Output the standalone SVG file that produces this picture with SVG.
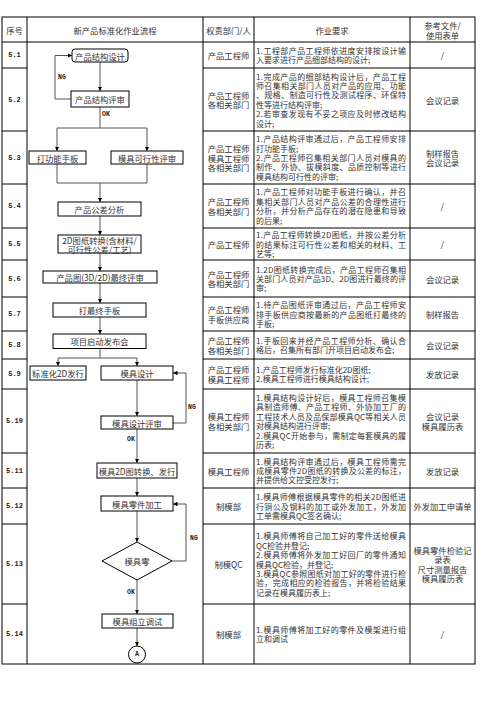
<svg xmlns="http://www.w3.org/2000/svg" width="496" height="702" viewBox="0 0 496 702">
<style>
.grid{stroke:#000;stroke-width:1;fill:none}
.box{fill:#fff;stroke:#000;stroke-width:1}
.cn{stroke:#555;stroke-width:1;fill:none}
text{font-family:"Noto Sans CJK SC","Noto Sans",sans-serif;fill:#333;dominant-baseline:central}
.c{text-anchor:middle}
.bt{font-size:8.3px;text-anchor:middle}
.t{font-size:8px}
.h{font-size:8.3px;text-anchor:middle}
.num{font-family:"Liberation Mono",monospace;font-size:7px;font-weight:bold;text-anchor:middle;fill:#222}
.lb{font-family:"Liberation Mono",monospace;font-size:6.5px;font-weight:bold;fill:#222}
</style>
<defs>
<marker id="ah" viewBox="0 0 10 10" refX="10" refY="5" markerWidth="4.5" markerHeight="4.5" markerUnits="userSpaceOnUse" orient="auto">
<path d="M0,0 L10,5 L0,10 z" fill="#000"/>
</marker>
</defs>
<rect width="496" height="702" fill="#fff"/>
<g id="table">
<rect class="grid" x="2" y="17" width="473" height="647"/>
<line class="grid" x1="2" y1="42" x2="475" y2="42"/>
<line class="grid" x1="27" y1="17" x2="27" y2="664"/>
<line class="grid" x1="203" y1="17" x2="203" y2="664"/>
<line class="grid" x1="254" y1="17" x2="254" y2="664"/>
<line class="grid" x1="410" y1="17" x2="410" y2="664"/>
<path class="grid" d="M2,68H27M2,131H27M2,184H27M2,228H27M2,260H27M2,297H27M2,331H27M2,359H27M2,389H27M2,453H27M2,488H27M2,524H27M2,604H27"/>
<path class="grid" d="M203,68H475M203,131H475M203,184H475M203,228H475M203,260H475M203,297H475M203,331H475M203,359H475M203,389H475M203,453H475M203,488H475M203,524H475M203,604H475"/>
<text class="h" x="14.5" y="29.5">序号</text>
<text class="h" x="115" y="29.5">新产品标准化作业流程</text>
<text class="h" x="228.5" y="29.5">权责部门/人</text>
<text class="h" x="332" y="29.5">作业要求</text>
<text class="h" x="442.5" y="25">参考文件/</text>
<text class="h" x="442.5" y="34.5">使用表单</text>
</g>
<g id="numbers">
<text class="num" x="14.5" y="55">5.1</text>
<text class="num" x="14.5" y="99.5">5.2</text>
<text class="num" x="14.5" y="157.5">5.3</text>
<text class="num" x="14.5" y="206">5.4</text>
<text class="num" x="14.5" y="244">5.5</text>
<text class="num" x="14.5" y="278.5">5.6</text>
<text class="num" x="14.5" y="314">5.7</text>
<text class="num" x="14.5" y="345">5.8</text>
<text class="num" x="14.5" y="374">5.9</text>
<text class="num" x="14.5" y="421">5.10</text>
<text class="num" x="14.5" y="470.5">5.11</text>
<text class="num" x="14.5" y="506">5.12</text>
<text class="num" x="14.5" y="564">5.13</text>
<text class="num" x="14.5" y="634">5.14</text>
</g>
<g id="responsible">
<text class="h" x="228.5" y="55">产品工程师</text>
<text class="h" x="228.5" y="94.8">产品工程师</text><text class="h" x="228.5" y="104.2">各相关部门</text>
<text class="h" x="228.5" y="148.1">产品工程师</text><text class="h" x="228.5" y="157.5">模具工程师</text><text class="h" x="228.5" y="166.9">各相关部门</text>
<text class="h" x="228.5" y="201.3">产品工程师</text><text class="h" x="228.5" y="210.7">各相关部门</text>
<text class="h" x="228.5" y="244">产品工程师</text>
<text class="h" x="228.5" y="273.8">产品工程师</text><text class="h" x="228.5" y="283.2">各相关部门</text>
<text class="h" x="228.5" y="309.3">产品工程师</text><text class="h" x="228.5" y="318.7">手板供应商</text>
<text class="h" x="228.5" y="340.3">产品工程师</text><text class="h" x="228.5" y="349.7">各相关部门</text>
<text class="h" x="228.5" y="369.3">产品工程师</text><text class="h" x="228.5" y="378.7">模具工程师</text>
<text class="h" x="228.5" y="416.3">模具工程师</text><text class="h" x="228.5" y="425.7">各相关部门</text>
<text class="h" x="228.5" y="470.5">模具工程师</text>
<text class="h" x="228.5" y="506">制模部</text>
<text class="h" x="228.5" y="564">制模QC</text>
<text class="h" x="228.5" y="634">制模部</text>
</g>
<g id="requirements">
<text class="t" x="256" y="50.3" textLength="150" lengthAdjust="spacing">1.工程部产品工程师依进度安排按设计输</text>
<text class="t" x="256" y="59.7">入要求进行产品细部结构的设计;</text>
<text class="t" x="256" y="76" textLength="150" lengthAdjust="spacing">1.完成产品的细部结构设计后，产品工程</text>
<text class="t" x="256" y="85.4" textLength="150" lengthAdjust="spacing">师召集相关部门人员对产品的应用、功能</text>
<text class="t" x="256" y="94.8" textLength="150" lengthAdjust="spacing">、规格、制造可行性及测试程序、环保特</text>
<text class="t" x="256" y="104.2">性等进行结构评审;</text>
<text class="t" x="256" y="113.6" textLength="150" lengthAdjust="spacing">2.若审查发现有不妥之项应及时修改结构</text>
<text class="t" x="256" y="123">设计;</text>
<text class="t" x="256" y="138.7" textLength="150" lengthAdjust="spacing">1.产品结构评审通过后，产品工程师安排</text>
<text class="t" x="256" y="148.1">打功能手板;</text>
<text class="t" x="256" y="157.5" textLength="150" lengthAdjust="spacing">2.产品工程师召集相关部门人员对模具的</text>
<text class="t" x="256" y="166.9" textLength="150" lengthAdjust="spacing">制作、外协、拔模斜度、品质控制等进行</text>
<text class="t" x="256" y="176.3">模具结构可行性的评审;</text>
<text class="t" x="256" y="191.9" textLength="150" lengthAdjust="spacing">1.产品工程师对功能手板进行确认，并召</text>
<text class="t" x="256" y="201.3" textLength="150" lengthAdjust="spacing">集相关部门人员对产品公差的合理性进行</text>
<text class="t" x="256" y="210.7" textLength="150" lengthAdjust="spacing">分析，并分析产品存在的潜在隐患和导致</text>
<text class="t" x="256" y="220.1">的后果;</text>
<text class="t" x="256" y="234.6" textLength="150" lengthAdjust="spacing">1.产品工程师转换2D图纸，并按公差分析</text>
<text class="t" x="256" y="244" textLength="150" lengthAdjust="spacing">的结果标注可行性公差和相关的材料、工</text>
<text class="t" x="256" y="253.4">艺等;</text>
<text class="t" x="256" y="269.1" textLength="150" lengthAdjust="spacing">1.2D图纸转换完成后，产品工程师召集相</text>
<text class="t" x="256" y="278.5" textLength="150" lengthAdjust="spacing">关部门人员对产品3D、2D图进行最终的评</text>
<text class="t" x="256" y="287.9">审;</text>
<text class="t" x="256" y="304.6" textLength="150" lengthAdjust="spacing">1.待产品图纸评审通过后，产品工程师安</text>
<text class="t" x="256" y="314" textLength="150" lengthAdjust="spacing">排手板供应商按最新的产品图纸打最终的</text>
<text class="t" x="256" y="323.4">手板;</text>
<text class="t" x="256" y="340.3" textLength="150" lengthAdjust="spacing">1.手板回来并经产品工程师分析、确认合</text>
<text class="t" x="256" y="349.7">格后，召集所有部门开项目启动发布会;</text>
<text class="t" x="256" y="369.3">1.产品工程师发行标准化2D图纸;</text>
<text class="t" x="256" y="378.7">2.模具工程师进行模具结构设计;</text>
<text class="t" x="256" y="397.5" textLength="150" lengthAdjust="spacing">1.模具结构设计好后，模具工程师召集模</text>
<text class="t" x="256" y="406.9" textLength="150" lengthAdjust="spacing">具制造师傅、产品工程师、外协加工厂的</text>
<text class="t" x="256" y="416.3" textLength="150" lengthAdjust="spacing">工程技术人员及品保部模具QC等相关人员</text>
<text class="t" x="256" y="425.7">对模具结构进行评审;</text>
<text class="t" x="256" y="435.1" textLength="150" lengthAdjust="spacing">2.模具QC开始参与，需制定每套模具的履</text>
<text class="t" x="256" y="444.5">历表;</text>
<text class="t" x="256" y="461.1" textLength="150" lengthAdjust="spacing">1.模具结构评审通过后，模具工程师需完</text>
<text class="t" x="256" y="470.5" textLength="150" lengthAdjust="spacing">成模具零件2D图纸的转换及公差的标注，</text>
<text class="t" x="256" y="479.9">并提供给文控受控发行;</text>
<text class="t" x="256" y="496.6" textLength="150" lengthAdjust="spacing">1.模具师傅根据模具零件的相关2D图纸进</text>
<text class="t" x="256" y="506" textLength="150" lengthAdjust="spacing">行铜公及钢料的加工或外发加工，外发加</text>
<text class="t" x="256" y="515.4">工单需模具QC签名确认;</text>
<text class="t" x="256" y="535.8" textLength="150" lengthAdjust="spacing">1.模具师傅将自己加工好的零件送给模具</text>
<text class="t" x="256" y="545.2">QC检验并登记;</text>
<text class="t" x="256" y="554.6" textLength="150" lengthAdjust="spacing">2.模具师傅将外发加工好回厂的零件通知</text>
<text class="t" x="256" y="564">模具QC检验，并登记;</text>
<text class="t" x="256" y="573.4" textLength="150" lengthAdjust="spacing">3.模具QC参照图纸对加工好的零件进行检</text>
<text class="t" x="256" y="582.8" textLength="150" lengthAdjust="spacing">验，完成相应的检验报告，并将检验结果</text>
<text class="t" x="256" y="592.2">记录在模具履历表上;</text>
<text class="t" x="256" y="629.3" textLength="150" lengthAdjust="spacing">1.模具师傅将加工好的零件及模架进行组</text>
<text class="t" x="256" y="638.7">立和调试</text>
</g>
<g id="references">
<text class="h" x="442.5" y="55">/</text>
<text class="h" x="442.5" y="99.5">会议记录</text>
<text class="h" x="442.5" y="152.8">制样报告</text><text class="h" x="442.5" y="162.2">会议记录</text>
<text class="h" x="442.5" y="206">/</text>
<text class="h" x="442.5" y="244">/</text>
<text class="h" x="442.5" y="278.5">会议记录</text>
<text class="h" x="442.5" y="314">制样报告</text>
<text class="h" x="442.5" y="345">会议记录</text>
<text class="h" x="442.5" y="374">发放记录</text>
<text class="h" x="442.5" y="416.3">会议记录</text><text class="h" x="442.5" y="425.7">模具履历表</text>
<text class="h" x="442.5" y="470.5">发放记录</text>
<text class="h" x="442.5" y="506">外发加工申请单</text>
<text class="h" x="442.5" y="549.9">模具零件检验记</text><text class="h" x="442.5" y="559.3">录表</text><text class="h" x="442.5" y="568.7">尺寸测量报告</text><text class="h" x="442.5" y="578.1">模具履历表</text>
<text class="h" x="442.5" y="634">/</text>
</g>
<g id="connectors">
<path class="cn" d="M100,62V91" marker-end="url(#ah)"/>
<path class="cn" d="M71,99H55V55.5H72" marker-end="url(#ah)"/>
<path class="cn" d="M100,107V128M57,128H147"/>
<path class="cn" d="M57,128V151" marker-end="url(#ah)"/>
<path class="cn" d="M147,128V151" marker-end="url(#ah)"/>
<path class="cn" d="M57,164V183H147V164"/>
<path class="cn" d="M100,183V202" marker-end="url(#ah)"/>
<path class="cn" d="M100,216V235" marker-end="url(#ah)"/>
<path class="cn" d="M100,253V271" marker-end="url(#ah)"/>
<path class="cn" d="M100,283V303" marker-end="url(#ah)"/>
<path class="cn" d="M100,317V334" marker-end="url(#ah)"/>
<path class="cn" d="M100,348.5V358M58,358H137"/>
<path class="cn" d="M58,358V366" marker-end="url(#ah)"/>
<path class="cn" d="M137,358V366" marker-end="url(#ah)"/>
<path class="cn" d="M137,380V416" marker-end="url(#ah)"/>
<path class="cn" d="M173,423H186V373H173" marker-end="url(#ah)"/>
<path class="cn" d="M137,429V463" marker-end="url(#ah)"/>
<path class="cn" d="M137,478V496" marker-end="url(#ah)"/>
<path class="cn" d="M137,511V542" marker-end="url(#ah)"/>
<path class="cn" d="M172,561H186V504H173" marker-end="url(#ah)"/>
<path class="cn" d="M137,580V614" marker-end="url(#ah)"/>
<path class="cn" d="M137,628V646" marker-end="url(#ah)"/>
<text class="lb" x="58" y="77">NG</text>
<text class="lb" x="102" y="114">OK</text>
<text class="lb" x="188" y="407">NG</text>
<text class="lb" x="127" y="439">OK</text>
<text class="lb" x="190" y="538">NG</text>
<text class="lb" x="127" y="592">OK</text>
</g>
<g id="n1"><rect class="box" x="72" y="49" width="56" height="13" rx="3"/><text class="bt" x="100" y="55.5">产品结构设计</text></g>
<g id="n2"><rect class="box" x="71" y="91" width="58" height="16"/><text class="bt" x="100" y="99">产品结构评审</text></g>
<g id="n3"><rect class="box" x="29" y="151" width="57" height="13"/><text class="bt" x="57.5" y="157.5">打功能手板</text></g>
<g id="n4"><rect class="box" x="111" y="151" width="72" height="13"/><text class="bt" x="147" y="157.5">模具可行性评审</text></g>
<g id="n5"><rect class="box" x="58" y="202" width="83" height="14"/><text class="bt" x="99.5" y="209">产品公差分析</text></g>
<g id="n6"><rect class="box" x="58" y="235" width="83" height="18"/><text class="bt" x="99.5" y="240">2D图纸转换(含材料/</text><text class="bt" x="99.5" y="248.5">可行性公差/工艺)</text></g>
<g id="n7"><rect class="box" x="43" y="271" width="114" height="12"/><text class="bt" x="100" y="277">产品图(3D/2D)最终评审</text></g>
<g id="n8"><rect class="box" x="53" y="303" width="93" height="14"/><text class="bt" x="99.5" y="310">打最终手板</text></g>
<g id="n9"><rect class="box" x="53" y="334" width="93" height="14.5"/><text class="bt" x="99.5" y="341.3">项目启动发布会</text></g>
<g id="n10"><rect class="box" x="30" y="366" width="56" height="14"/><text class="bt" x="58" y="373">标准化2D发行</text></g>
<g id="n11"><rect class="box" x="101" y="366" width="72" height="14"/><text class="bt" x="137" y="373">模具设计</text></g>
<g id="n12"><rect class="box" x="101" y="416" width="72" height="13"/><text class="bt" x="137" y="422.5">模具设计评审</text></g>
<g id="n13"><rect class="box" x="97" y="463" width="80" height="15"/><text class="bt" x="137" y="470.5">模具2D图转换、发行</text></g>
<g id="n14"><rect class="box" x="101" y="496" width="72" height="15"/><text class="bt" x="137" y="503.5">模具零件加工</text></g>
<g id="n15"><polygon class="box" points="137,542 172,561 137,580 102,561"/><text class="bt" x="137" y="561">模具零</text></g>
<g id="n16"><rect class="box" x="102" y="614" width="71" height="14"/><text class="bt" x="137.5" y="621">模具组立调试</text></g>
<g id="n17"><circle class="box" cx="137" cy="654.5" r="8.5"/><text class="lb c" x="137" y="654.5" style="text-anchor:middle">A</text></g>
</svg>
